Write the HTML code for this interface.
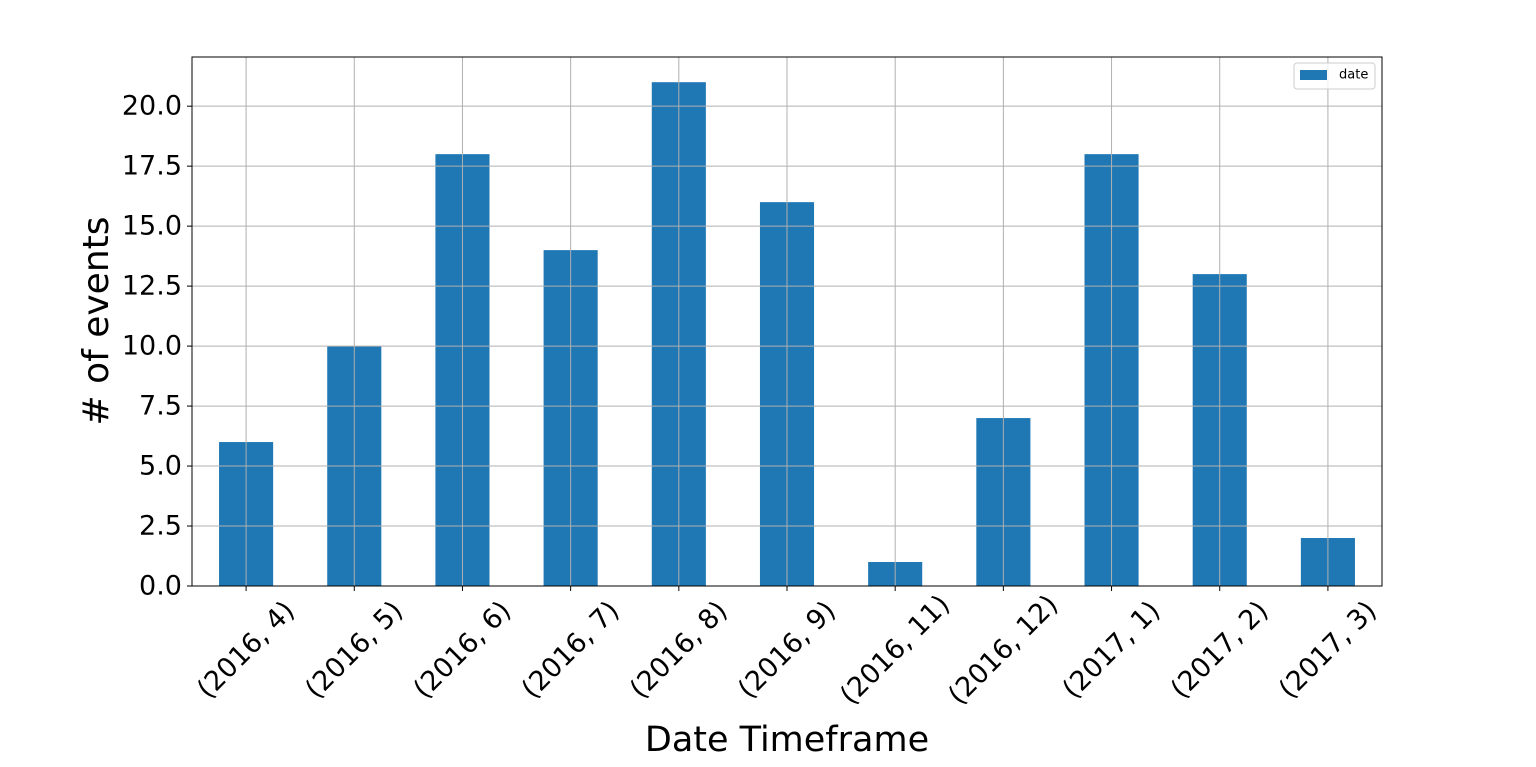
<!DOCTYPE html>
<html><head><meta charset="utf-8"><style>
body{margin:0;background:#fff;}
svg{display:block;font-family:"DejaVu Sans","Liberation Sans",sans-serif;}
</style></head><body>
<svg id="chart" width="1536" height="767"></svg>
<script>
const categories=["(2016, 4)","(2016, 5)","(2016, 6)","(2016, 7)","(2016, 8)","(2016, 9)","(2016, 11)","(2016, 12)","(2017, 1)","(2017, 2)","(2017, 3)"];
const values=[6,10,18,14,21,16,1,7,18,13,2];
const yTicks=[0,2.5,5,7.5,10,12.5,15,17.5,20];
const yTickLabels=["0.0","2.5","5.0","7.5","10.0","12.5","15.0","17.5","20.0"];
const yMax=22.05;

const NS="http://www.w3.org/2000/svg";
const svg=document.getElementById('chart');
const L=192,R=1382,T=57,B=586;
const band=(R-L)/categories.length;
const xC=i=>L+band*(i+0.5);
const y=v=>B-(v/yMax)*(B-T);
function mk(tag,attrs,parent){const e=document.createElementNS(NS,tag);for(const k in attrs)e.setAttribute(k,attrs[k]);(parent||svg).appendChild(e);return e;}

const bars=mk('g',{});


values.forEach((v,i)=>{
  const r=mk('rect',{x:xC(i)-band/4,y:y(v),width:band/2,height:B-y(v),fill:'#1f77b4'},bars);
  
  
});
const grid=mk('g',{stroke:'#b0b0b0','stroke-width':1});


categories.forEach((c,i)=>mk('line',{x1:xC(i),x2:xC(i),y1:T,y2:B},grid));
yTicks.forEach(t=>mk('line',{x1:L,x2:R,y1:y(t),y2:y(t)},grid));

const frame=mk('rect',{x:L,y:T,width:R-L,height:B-T,fill:'none',stroke:'#000','stroke-width':1});



const yax=mk('g',{});


yTicks.forEach((t,i)=>{
  mk('line',{x1:L-5,x2:L,y1:y(t),y2:y(t),stroke:'#000'},yax);
  const tx=mk('text',{x:L-10,y:y(t),'text-anchor':'end','dominant-baseline':'central','font-size':27,fill:'#000'},yax);
  tx.textContent=yTickLabels[i];
  
  
});
const xax=mk('g',{});


categories.forEach((c,i)=>{
  mk('line',{x1:xC(i),x2:xC(i),y1:B,y2:B+5,stroke:'#000'},xax);
  const tx=mk('text',{transform:`translate(${xC(i)},${650}) rotate(-45)`,'text-anchor':'middle','dominant-baseline':'central','font-size':27,fill:'#000'},xax);
  tx.textContent=c;
  
  
});
const xt=mk('text',{x:787,y:751,'text-anchor':'middle','font-size':35,fill:'#000'});
xt.textContent='Date Timeframe';


const yt=mk('text',{transform:'translate(108,321) rotate(-90)','text-anchor':'middle','font-size':36,fill:'#000'});
yt.textContent='# of events';



const lg=mk('g',{});


mk('rect',{x:1294,y:63,width:81,height:26,rx:3,fill:'#fff','fill-opacity':0.8,stroke:'#ccc'},lg);
mk('rect',{x:1300,y:70,width:27,height:10,fill:'#1f77b4'},lg);
const lt=mk('text',{x:1339,y:75,'dominant-baseline':'central','font-size':13,fill:'#000'},lg);
lt.textContent='date';


</script>
</body></html>
